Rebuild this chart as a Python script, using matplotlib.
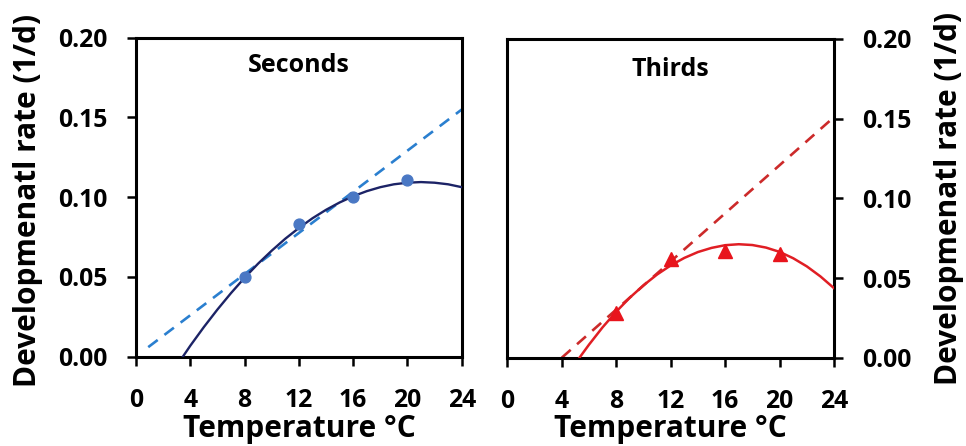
import numpy as np
import matplotlib
matplotlib.use("Agg")
import matplotlib.pyplot as plt

# x ticks shared by both panels
temp_ticks = [0, 4, 8, 12, 16, 20, 24]
rate_ticks = [0.00, 0.05, 0.10, 0.15, 0.20]
rate_tick_labels = ["0.00", "0.05", "0.10", "0.15", "0.20"]

# Seconds: observed points
sec_temp = [8, 12, 16, 20]
sec_rate = [0.050, 0.083, 0.100, 0.111]
# Seconds: linear fit (dashed), end points
sec_lin_temp = [0.9, 24]
sec_lin_rate = [0.006, 0.155]
# Seconds: nonlinear fit (solid)
sec_curve_temp = [3.45, 4, 5, 6, 7, 8, 9, 10, 11, 12, 13, 14, 15, 16,
                  17, 18, 19, 20, 21, 22, 23, 24]
sec_curve_rate = [0.0, 0.0069, 0.0186, 0.0296, 0.0399, 0.0495, 0.0584,
                  0.0665, 0.0740, 0.0807, 0.0868, 0.0921, 0.0967, 0.1006,
                  0.1038, 0.1063, 0.1081, 0.1091, 0.1095, 0.1091, 0.1081,
                  0.1063]

# Thirds: observed points
thr_temp = [8, 12, 16, 20]
thr_rate = [0.028, 0.062, 0.067, 0.065]
# Thirds: linear fit (dashed)
thr_lin_temp = [4.0, 24]
thr_lin_rate = [0.0, 0.151]
# Thirds: nonlinear fit (solid)
thr_curve_temp = [5.3, 6, 7, 8, 9, 10, 11, 12, 13, 14, 15, 16, 17, 18,
                  19, 20, 21, 22, 23, 24]
thr_curve_rate = [0.0, 0.0082, 0.0191, 0.0289, 0.0377, 0.0454, 0.0522,
                  0.0579, 0.0626, 0.0663, 0.0689, 0.0706, 0.0712, 0.0707,
                  0.0691, 0.0664, 0.0624, 0.0573, 0.0510, 0.0436]

plt.rcParams['font.family'] = ['Open Sans', 'DejaVu Sans']
plt.rcParams['font.weight'] = 'bold'

fig = plt.figure(figsize=(9.66, 4.46), dpi=100)
ax1 = fig.add_axes([0.1408, 0.2002, 0.3372, 0.7152])
ax2 = fig.add_axes([0.5252, 0.1980, 0.3382, 0.7146])

tick_fs = 17.8
label_fs = 21.5
title_fs = 18
ylabel = "Developmenatl rate (1/d)"
xlabel = "Temperature \u00b0C"


def style_axes(ax, right=False):
    ax.set_xlim(0, 24)
    ax.set_ylim(0, 0.2)
    ax.set_xticks(temp_ticks)
    ax.set_yticks(rate_ticks)
    ax.set_yticklabels(rate_tick_labels)
    for sp in ax.spines.values():
        sp.set_linewidth(2.2)
        sp.set_color("black")
    ax.tick_params(axis="x", direction="out", length=6.7, width=1.8,
                   pad=15.5, labelsize=tick_fs)
    ax.tick_params(axis="y", direction="out", length=6.7, width=1.8,
                   pad=13.5, labelsize=tick_fs)
    if right:
        ax.yaxis.tick_right()
    for lbl in ax.get_xticklabels() + ax.get_yticklabels():
        lbl.set_fontweight("bold")


# Seconds panel
ax1.plot(sec_lin_temp, sec_lin_rate, color="#2a7fcf", lw=1.9,
         dashes=(4.5, 3.2), zorder=2)
ax1.plot(sec_curve_temp, sec_curve_rate, color="#1c2366", lw=1.7, zorder=3)
ax1.plot(sec_temp, sec_rate, "o", color="#4a78c4", ms=7.8, zorder=4)
style_axes(ax1)
ax1.text(0.5, 0.914, "Seconds", transform=ax1.transAxes, ha="center",
         va="center", fontsize=title_fs, fontweight="bold")
ax1.set_ylabel(ylabel, fontsize=label_fs, fontweight="bold",
               va="center", ha="center")
ax1.yaxis.set_label_coords(-0.3316, 0.49)
ax1.set_xlabel(xlabel, fontsize=label_fs, fontweight="bold", va="baseline")
ax1.xaxis.set_label_coords(0.5, -0.2517)

# Thirds panel
ax2.plot(thr_lin_temp, thr_lin_rate, color="#cc2a2a", lw=1.9,
         dashes=(4.5, 3.2), zorder=2)
ax2.plot(thr_curve_temp, thr_curve_rate, color="#e01e24", lw=1.8, zorder=3)
ax2.plot(thr_temp, thr_rate, "^", color="#e8141c", ms=9.5, zorder=4)
style_axes(ax2, right=True)
ax2.text(0.5, 0.903, "Thirds", transform=ax2.transAxes, ha="center",
         va="center", fontsize=title_fs, fontweight="bold")
ax2.yaxis.set_label_position("right")
ax2.set_ylabel(ylabel, fontsize=label_fs, fontweight="bold",
               va="center", ha="center")
ax2.yaxis.set_label_coords(1.352, 0.5)
ax2.set_xlabel(xlabel, fontsize=label_fs, fontweight="bold", va="baseline")
ax2.xaxis.set_label_coords(0.5, -0.249)

fig.savefig("out.png", dpi=100)
